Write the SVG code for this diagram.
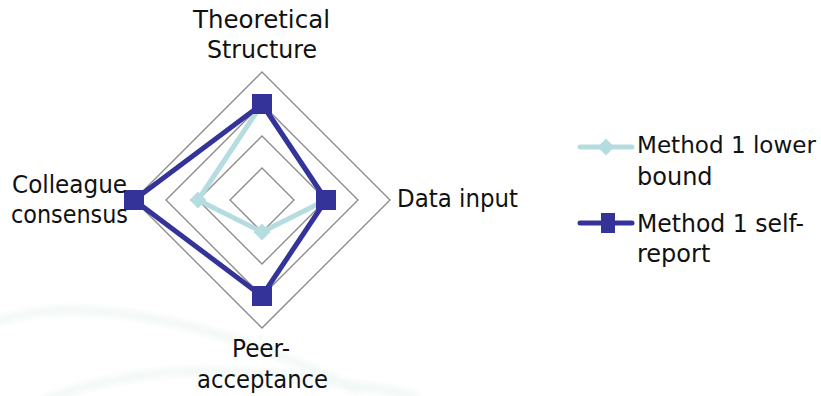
<svg xmlns="http://www.w3.org/2000/svg" width="821" height="396" viewBox="0 0 821 396">
  <style>
    .lbl { font-family: "DejaVu Sans", "Liberation Sans", sans-serif; font-size: 24px; fill: #111; }
    .grid { fill: none; stroke: #8c8c8c; stroke-width: 1.4; }
    .lower { fill: none; stroke: #b5dde0; stroke-width: 5; stroke-linejoin: round; }
    .self { fill: none; stroke: #333399; stroke-width: 5; stroke-linejoin: round; }
    .mk-lower { fill: #b5dde0; }
    .mk-self { fill: #333399; }
    .swoosh { fill: none; stroke: #f1f8f5; stroke-width: 8; }
  </style>
  <defs>
    <filter id="soft" x="-10%" y="-50%" width="120%" height="200%">
      <feGaussianBlur stdDeviation="3"/>
    </filter>
  </defs>
  <rect width="821" height="396" fill="#ffffff"/>

  <!-- faint background swooshes -->
  <g id="background" filter="url(#soft)">
    <path class="swoosh" d="M -10 324 Q 50 300 150 318 T 360 392"/>
    <path class="swoosh" d="M 40 402 Q 140 362 260 374 T 420 398"/>
  </g>

  <!-- radar grid rings -->
  <g id="grid">
    <polygon class="grid" points="262,72 390,200 262,328 134,200"/>
    <polygon class="grid" points="262,104 358,200 262,296 166,200"/>
    <polygon class="grid" points="262,136 326,200 262,264 198,200"/>
    <polygon class="grid" points="262,168 294,200 262,232 230,200"/>
  </g>

  <!-- data series -->
  <g id="series-lower">
    <polygon class="lower" points="262,104 326,200 262,232 198,200"/>
    <path class="mk-lower" d="M262,95.5 l8.5,8.5 -8.5,8.5 -8.5,-8.5 z"/>
    <path class="mk-lower" d="M326,191.5 l8.5,8.5 -8.5,8.5 -8.5,-8.5 z"/>
    <path class="mk-lower" d="M262,223.5 l8.5,8.5 -8.5,8.5 -8.5,-8.5 z"/>
    <path class="mk-lower" d="M198,191.5 l8.5,8.5 -8.5,8.5 -8.5,-8.5 z"/>
  </g>
  <g id="series-self">
    <polygon class="self" points="262,104 326,200 262,296 134,200"/>
    <rect class="mk-self" x="252" y="94" width="20" height="20"/>
    <rect class="mk-self" x="316" y="190" width="20" height="20"/>
    <rect class="mk-self" x="252" y="286" width="20" height="20"/>
    <rect class="mk-self" x="124" y="190" width="20" height="20"/>
  </g>

  <!-- axis labels -->
  <g id="axis-theoretical">
    <text class="lbl" x="193" y="28" textLength="137" lengthAdjust="spacingAndGlyphs">Theoretical</text>
    <text class="lbl" x="207" y="58" textLength="110" lengthAdjust="spacingAndGlyphs">Structure</text>
  </g>
  <g id="axis-data">
    <text class="lbl" x="397" y="207" textLength="121" lengthAdjust="spacingAndGlyphs">Data input</text>
  </g>
  <g id="axis-peer">
    <text class="lbl" x="232" y="357" textLength="58" lengthAdjust="spacingAndGlyphs">Peer-</text>
    <text class="lbl" x="197" y="388" textLength="131" lengthAdjust="spacingAndGlyphs">acceptance</text>
  </g>
  <g id="axis-colleague">
    <text class="lbl" x="12" y="193" textLength="115" lengthAdjust="spacingAndGlyphs">Colleague</text>
    <text class="lbl" x="11" y="223" textLength="117" lengthAdjust="spacingAndGlyphs">consensus</text>
  </g>

  <!-- legend -->
  <g id="legend-lower">
    <line x1="580" y1="147" x2="632" y2="147" stroke="#b5dde0" stroke-width="5" stroke-linecap="round"/>
    <path class="mk-lower" d="M606,138.5 l8.5,8.5 -8.5,8.5 -8.5,-8.5 z"/>
    <text class="lbl" x="637" y="153" font-size="23" textLength="179" lengthAdjust="spacingAndGlyphs" style="font-size:23px">Method 1 lower</text>
    <text class="lbl" x="637" y="185">bound</text>
  </g>
  <g id="legend-self">
    <line x1="580" y1="223" x2="632" y2="223" stroke="#333399" stroke-width="5" stroke-linecap="round"/>
    <rect class="mk-self" x="601" y="213" width="14" height="20"/>
    <text class="lbl" x="637" y="232" textLength="167" lengthAdjust="spacingAndGlyphs">Method 1 self-</text>
    <text class="lbl" x="637" y="262">report</text>
  </g>
</svg>
